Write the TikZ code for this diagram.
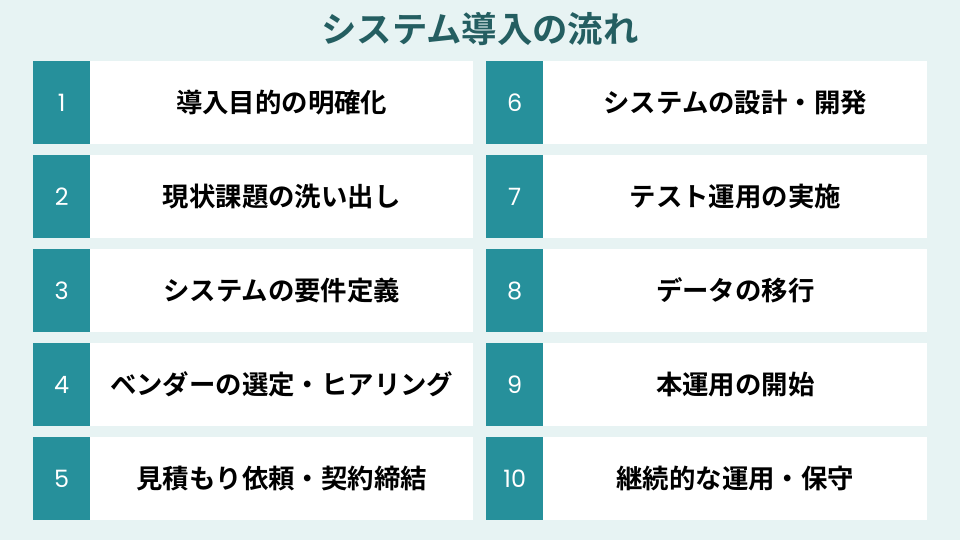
\documentclass[tikz,border=0pt]{standalone}
\usepackage{fontspec}
\newfontfamily\jpfont{Noto Sans CJK JP}[BoldFont={* Bold}]
\newfontfamily\numfont{Poppins}
\definecolor{bgc}{HTML}{E7F3F3}
\definecolor{tealc}{HTML}{26909B}
\definecolor{titlec}{HTML}{245E61}
\begin{document}
\begin{tikzpicture}[x=1bp,y=-1bp,
  numbox/.style={fill=tealc,draw=none,minimum width=57bp,minimum height=83bp,inner sep=0,anchor=north west,
    font=\numfont\fontsize{24}{24}\selectfont,text=white},
  textbox/.style={fill=white,draw=none,minimum width=383bp,minimum height=83bp,inner sep=0,anchor=north west,
    font=\jpfont\bfseries\fontsize{26.5}{30}\selectfont,text=black}]
\fill[bgc] (0,0) rectangle (960,540);
\useasboundingbox (0,0) rectangle (960,540);
\node[font=\jpfont\bfseries\fontsize{35.5}{40}\selectfont,text=titlec] (title) at (480,29) {システム導入の流れ};
\foreach \i/\t [count=\k from 0] in {1/導入目的の明確化,2/現状課題の洗い出し,3/システムの要件定義,4/ベンダーの選定・ヒアリング,5/見積もり依頼・契約締結}{
  \node[textbox] (t\i) at (90,{61+94*\k}) {\t};
  \node[numbox] (n\i) at (33,{61+94*\k}) {\i};
}
\foreach \i/\t [count=\k from 0] in {6/システムの設計・開発,7/テスト運用の実施,8/データの移行,9/本運用の開始,10/継続的な運用・保守}{
  \node[textbox,minimum width=384bp] (t\i) at (543,{61+94*\k}) {\t};
  \node[numbox] (n\i) at (486,{61+94*\k}) {\i};
}
\end{tikzpicture}
\end{document}
